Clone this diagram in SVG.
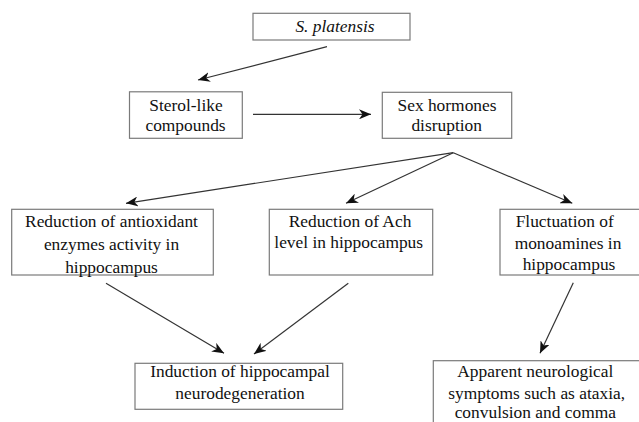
<svg xmlns="http://www.w3.org/2000/svg" width="639" height="422" viewBox="0 0 639 422">
<defs>
<marker id="arr" viewBox="0 0 12 10" refX="12" refY="5" markerWidth="12" markerHeight="10" markerUnits="userSpaceOnUse" orient="auto">
<path d="M0,0 L12,5 L0,10 L3.5,5 Z" fill="#111"/>
</marker>
<style>
.box{fill:#fff;stroke:#7a7a7a;stroke-width:1.2}
.t{font-family:'Liberation Serif','Times New Roman','DejaVu Serif',Times,serif;font-size:17.4px;fill:#111;text-anchor:middle}
.c{stroke:#333;stroke-width:1.2;fill:none;marker-end:url(#arr)}
</style>
</defs>
<rect width="639" height="422" fill="#fff"/>
<g id="connectors">
<line class="c" x1="327" y1="46.7" x2="198" y2="80"/>
<line class="c" x1="253" y1="114.3" x2="371" y2="114.3"/>
<line class="c" x1="453.3" y1="152.7" x2="126" y2="203.3"/>
<line class="c" x1="453.3" y1="152.7" x2="346" y2="203.3"/>
<line class="c" x1="453.3" y1="152.7" x2="572.3" y2="203.3"/>
<line class="c" x1="106" y1="283.3" x2="224" y2="353.3"/>
<line class="c" x1="348.3" y1="283.3" x2="254" y2="354"/>
<line class="c" x1="573.3" y1="282.7" x2="540" y2="353.3"/>
</g>
<g id="n-splatensis">
<rect class="box" x="253" y="13.3" width="157" height="26.7"/>
<text class="t" x="335" y="31.7" font-style="italic" font-family="Liberation Serif, serif">S. platensis</text>
</g>
<g id="n-sterol">
<rect class="box" x="129.5" y="91.8" width="112.8" height="46.5"/>
<text class="t" x="186" y="110.7" font-family="Liberation Serif, serif">Sterol-like</text>
<text class="t" x="185.5" y="131" font-family="Liberation Serif, serif">compounds</text>
</g>
<g id="n-sex">
<rect class="box" x="382.3" y="92.3" width="129.4" height="46"/>
<text class="t" x="447" y="110.5" font-family="Liberation Serif, serif">Sex hormones</text>
<text class="t" x="446.7" y="131" font-family="Liberation Serif, serif">disruption</text>
</g>
<g id="n-antiox">
<rect class="box" x="11.7" y="209.3" width="201.6" height="65.7"/>
<text class="t" x="111.5" y="227" font-family="Liberation Serif, serif">Reduction of antioxidant</text>
<text class="t" x="111.5" y="250" font-family="Liberation Serif, serif">enzymes activity in</text>
<text class="t" x="111.5" y="272.5" font-family="Liberation Serif, serif">hippocampus</text>
</g>
<g id="n-ach">
<rect class="box" x="269.3" y="209.3" width="163.4" height="65.7"/>
<text class="t" x="350" y="226.7" font-family="Liberation Serif, serif">Reduction of Ach</text>
<text class="t" x="348.7" y="248.3" font-family="Liberation Serif, serif">level in hippocampus</text>
</g>
<g id="n-mono">
<rect class="box" x="500" y="209.3" width="145" height="65.7"/>
<text class="t" x="564.7" y="226.5" font-family="Liberation Serif, serif">Fluctuation of</text>
<text class="t" x="568" y="248.5" font-family="Liberation Serif, serif">monoamines in</text>
<text class="t" x="569" y="269.5" font-family="Liberation Serif, serif">hippocampus</text>
</g>
<g id="n-induction">
<rect class="box" x="135" y="363.3" width="207.7" height="46"/>
<text class="t" x="240" y="377" font-family="Liberation Serif, serif">Induction of hippocampal</text>
<text class="t" x="240" y="398.5" font-family="Liberation Serif, serif">neurodegeneration</text>
</g>
<g id="n-apparent">
<rect class="box" x="433.3" y="360.7" width="215" height="70"/>
<text class="t" x="535.3" y="377" font-family="Liberation Serif, serif">Apparent neurological</text>
<text class="t" x="536.7" y="398.5" font-family="Liberation Serif, serif">symptoms such as ataxia,</text>
<text class="t" x="535.3" y="418" font-family="Liberation Serif, serif">convulsion and comma</text>
</g>
</svg>
